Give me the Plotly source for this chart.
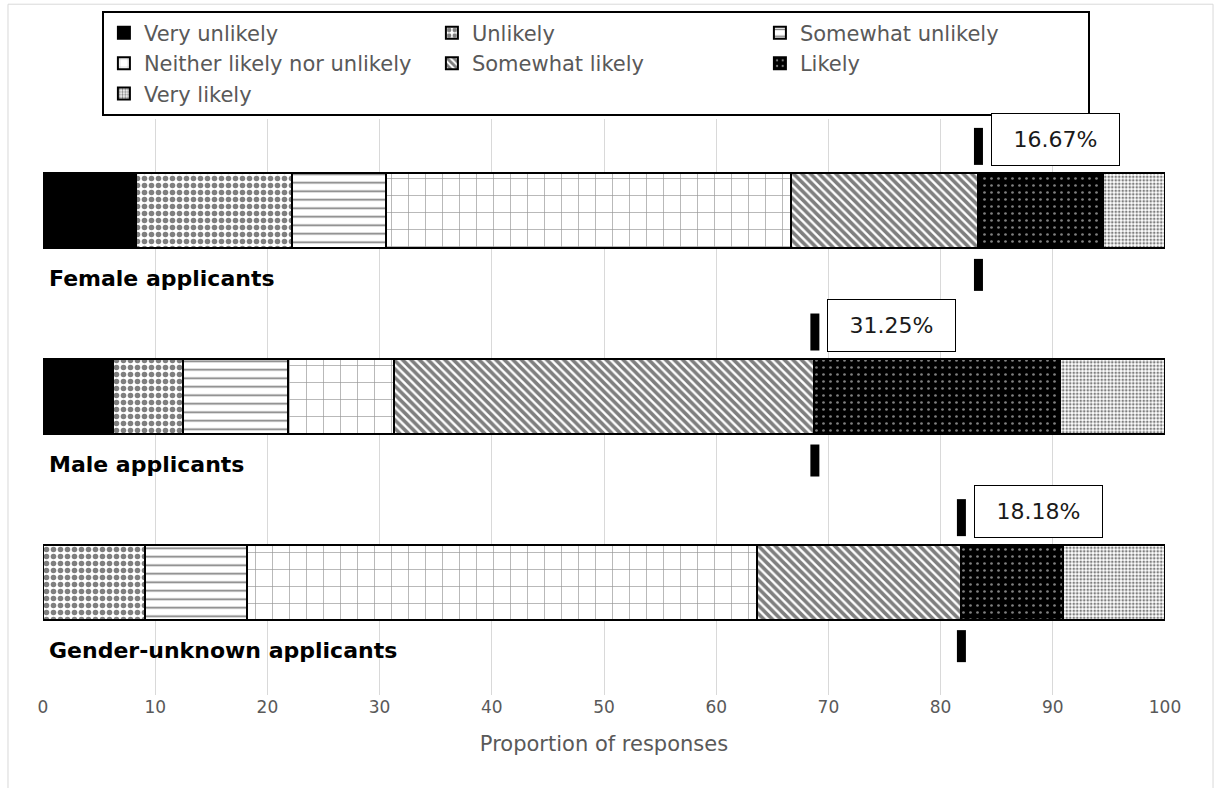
import plotly.graph_objects as go

# Survey responses, percent of each applicant group
groups = ["Female applicants", "Male applicants", "Gender-unknown applicants"]
responses = ["Very unlikely", "Unlikely", "Somewhat unlikely",
             "Neither likely nor unlikely", "Somewhat likely", "Likely", "Very likely"]

very_unlikely = [8.33, 6.25, 0.0]
unlikely = [13.89, 6.25, 9.09]
somewhat_unlikely = [8.33, 9.375, 9.09]
neither = [36.11, 9.375, 45.45]
somewhat_likely = [16.67, 37.5, 18.18]
likely = [11.11, 21.875, 9.09]
very_likely = [5.56, 9.375, 9.09]

series = [very_unlikely, unlikely, somewhat_unlikely, neither,
          somewhat_likely, likely, very_likely]

FONT = "DejaVu Sans"
GREY = "#595959"

# black-and-white fill patterns, one per response level
patterns = [
    dict(shape="", bgcolor="black", fgcolor="black"),
    dict(shape=".", bgcolor="white", fgcolor="black", size=7, solidity=0.5),
    dict(shape="-", bgcolor="white", fgcolor="black", size=8.5, solidity=0.2),
    dict(shape="+", bgcolor="white", fgcolor="#333333", size=17, solidity=0.08),
    dict(shape="\\", bgcolor="white", fgcolor="black", size=6, solidity=0.6),
    dict(shape=".", bgcolor="black", fgcolor="white", size=7, solidity=0.12),
    dict(shape=".", bgcolor="white", fgcolor="black", size=3.5, solidity=0.45),
]

fig = go.Figure()
for name, vals, pat in zip(responses, series, patterns):
    fig.add_trace(go.Bar(
        y=groups, x=vals, name=name, orientation="h", width=0.403,
        marker=dict(color=pat["bgcolor"], line=dict(color="black", width=2),
                    pattern=pat),
        hoverinfo="skip",
    ))

shapes = []
annotations = []
for i, g in enumerate(groups):
    # cumulative share up to "Somewhat likely" and the remaining likely share
    cut = sum(s[i] for s in series[:5])
    top_share = likely[i] + very_likely[i]
    for y0, y1 in [(46, 83), (-80, -48)]:
        shapes.append(dict(
            type="rect", xref="x", yref="y",
            xsizemode="pixel", xanchor=cut, x0=-4, x1=5,
            ysizemode="pixel", yanchor=i, y0=y0, y1=y1,
            fillcolor="black", line=dict(width=0), layer="above",
        ))
    annotations.append(dict(
        x=cut, y=i, xref="x", yref="y", xanchor="left", yanchor="middle",
        xshift=13, yshift=71, text=f"{top_share:.2f}%", showarrow=False,
        font=dict(family=FONT, size=22, color="#1a1a1a"),
        bordercolor="black", borderwidth=1, borderpad=1, bgcolor="white",
        width=125, height=49,
    ))
    annotations.append(dict(
        x=0, y=i, xref="x", yref="y", xanchor="left", yanchor="middle",
        xshift=4, yshift=-68, text=f"<b>{g}</b>", showarrow=False,
        font=dict(family=FONT, size=22, color="black"),
    ))

# light outer frame around the chart area
shapes.append(dict(type="rect", xref="paper", yref="paper",
                   x0=-0.0312, x1=1.0428, y0=-0.2, y1=1.1993,
                   line=dict(color="#d9d9d9", width=1), layer="below"))

fig.update_layout(
    width=1218, height=788,
    margin=dict(l=43, r=53, t=118, b=93),
    barmode="stack",
    plot_bgcolor="white", paper_bgcolor="white",
    font=dict(family=FONT, color=GREY),
    shapes=shapes, annotations=annotations,
    legend=dict(
        orientation="h", x=0.0525, y=1.186, xanchor="left", yanchor="top",
        entrywidth=283, traceorder="normal",
        font=dict(family=FONT, size=21, color=GREY),
        bordercolor="black", borderwidth=2, bgcolor="white",
    ),
    xaxis=dict(
        range=[0, 100], dtick=10, tick0=0, showgrid=True, gridcolor="#d9d9d9",
        gridwidth=1, zeroline=False, showline=False, ticks="",
        tickfont=dict(family=FONT, size=17, color=GREY),
        title=dict(text="Proportion of responses", standoff=20,
                   font=dict(family=FONT, size=21, color=GREY)),
    ),
    yaxis=dict(
        categoryorder="array", categoryarray=groups,
        range=[2.608, -0.495], showticklabels=False, showgrid=False,
        zeroline=False, showline=False, ticks="",
    ),
    showlegend=True,
)

fig.write_html("out.html")
